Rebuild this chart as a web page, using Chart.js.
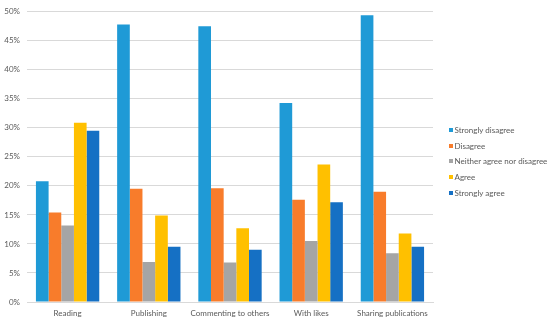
<!DOCTYPE html>
<html>
<head>
<meta charset="utf-8">
<script src="https://cdn.jsdelivr.net/npm/chart.js@4/dist/chart.umd.min.js"></script>
<style>
  html, body { margin: 0; padding: 0; background: #fff; }
  #wrap { position: relative; width: 550px; height: 324px; }
  #legend { position: absolute; left: 449px; top: 124px; margin: 0; padding: 0; list-style: none;
            font: 8px Lato, "Liberation Sans", sans-serif; color: #595959; }
  #legend li { height: 15.7px; line-height: 12px; white-space: nowrap; }
  #legend span { display: inline-block; width: 4px; height: 4px; margin-right: 1.5px; vertical-align: 1px; }
</style>
</head>
<body>
<div id="wrap"><canvas id="surveyChart" width="550" height="324"></canvas><ul id="legend"></ul></div>
<script>
  const categories = ['Reading', 'Publishing', 'Commenting to others', 'With likes', 'Sharing publications'];
  const seriesNames = ['Strongly disagree', 'Disagree', 'Neither agree nor disagree', 'Agree', 'Strongly agree'];
  const stronglyDisagree = [20.8, 47.8, 47.5, 34.3, 49.4];
  const disagree = [15.4, 19.5, 19.6, 17.6, 19.0];
  const neither = [13.2, 6.9, 6.8, 10.5, 8.4];
  const agree = [30.9, 14.9, 12.7, 23.7, 11.8];
  const stronglyAgree = [29.5, 9.5, 9.0, 17.2, 9.5];
  const yTicks = [0, 5, 10, 15, 20, 25, 30, 35, 40, 45, 50];
  const seriesColors = ['#1f9ad6', '#f87c2b', '#a5a5a5', '#ffc000', '#1570c4'];

  document.addEventListener("DOMContentLoaded", function() {
    const ctx = document.getElementById('surveyChart').getContext('2d');
    const values = [stronglyDisagree, disagree, neither, agree, stronglyAgree];
    Chart.defaults.font.family = 'Lato, "Liberation Sans", sans-serif';
    Chart.defaults.color = '#595959';

    new Chart(ctx, {
      type: 'bar',
      data: {
        labels: categories,
        datasets: values.map((v, i) => ({
          label: seriesNames[i],
          data: v,
          backgroundColor: seriesColors[i],
          barPercentage: 1,
          categoryPercentage: 0.78
        }))
      },
      options: {
        responsive: false,
        animation: false,
        layout: { padding: { top: 10, right: 117, left: 0, bottom: 0 } },
        plugins: {
          tooltip: { enabled: false },
          legend: { display: false }
        },
        scales: {
          x: {
            grid: { display: false, drawTicks: false },
            border: { color: '#d9d9d9' },
            ticks: { font: { size: 8 }, padding: 7, maxRotation: 0, autoSkip: false },
            afterFit: s => { s.height = 22; }
          },
          y: {
            min: 0,
            max: 50,
            border: { display: false },
            grid: { color: '#d9d9d9', drawTicks: false },
            afterBuildTicks: s => { s.ticks = yTicks.map(v => ({ value: v })); },
            afterFit: s => { s.width = 27; },
            ticks: {
              padding: 7,
              font: { size: 8 },
              callback: v => v + '%'
            }
          }
        }
      }
    });

    // legend built from the series names/colours
    const legend = document.getElementById('legend');
    seriesNames.forEach((name, i) => {
      const li = document.createElement('li');
      li.innerHTML = `<span style="background:${seriesColors[i]}"></span>${name}`;
      legend.appendChild(li);
    });
  });
</script>
</body>
</html>
